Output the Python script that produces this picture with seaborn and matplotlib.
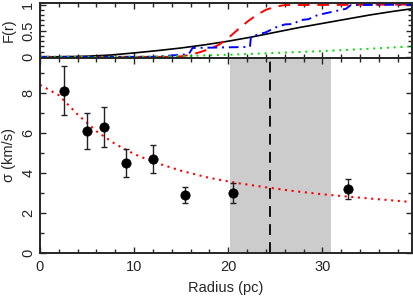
import matplotlib
matplotlib.use("Agg")
import matplotlib.pyplot as plt
from matplotlib.ticker import MultipleLocator
import seaborn as sns
import pandas as pd

# measured velocity dispersion profile
radius = [2.55, 4.98, 6.75, 9.12, 12.0, 15.4, 20.5, 32.7]
sigma = [8.12, 6.12, 6.32, 4.51, 4.69, 2.90, 2.98, 3.19]
sigma_lo = [1.20, 0.91, 1.01, 0.71, 0.69, 0.42, 0.50, 0.49]
sigma_hi = [1.25, 0.92, 1.00, 0.69, 0.72, 0.39, 0.51, 0.51]

# fitted model (red dotted)
fit_r = [0, 2, 4, 6, 8, 10, 12, 15, 18, 21, 24, 27, 30, 33, 36, 39.5]
fit_s = [8.43, 7.91, 6.94, 6.10, 5.46, 4.96, 4.57, 4.12, 3.76, 3.50, 3.29, 3.10, 2.94, 2.81, 2.69, 2.55]

# shaded range and marked radius
band = (20.15, 30.9)
r_mark = 24.4

# cumulative distributions F(r)
black_r = [0, 2.5, 5, 7.5, 10, 12.5, 15, 17.5, 20, 22.5, 25, 27.5, 30, 32.5, 35, 37.5, 39.5]
black_f = [0, 0.002, 0.012, 0.035, 0.075, 0.12, 0.17, 0.23, 0.30, 0.38, 0.47, 0.56, 0.64, 0.72, 0.80, 0.87, 0.92]
red_r = [0, 14, 15, 16, 17, 18, 19, 20, 21, 22, 23, 24, 25, 26, 39.5]
red_f = [0, 0, 0.01, 0.04, 0.09, 0.15, 0.23, 0.36, 0.52, 0.67, 0.80, 0.90, 0.96, 0.99, 1.0]
blue_r = [0, 12, 15.8, 16.2, 22.3, 22.4, 23, 24, 25, 26, 27, 27.5, 28.5, 29.5, 30.5, 31.5, 32.5, 33, 39.5]
blue_f = [0, 0, 0.05, 0.17, 0.19, 0.38, 0.42, 0.47, 0.56, 0.62, 0.63, 0.70, 0.72, 0.80, 0.84, 0.88, 0.92, 0.99, 1.0]
green_r = [0, 8, 12, 16, 20, 25, 30, 35, 39.5]
green_f = [0, 0, 0.005, 0.02, 0.04, 0.075, 0.11, 0.155, 0.20]

sns.set_style("ticks")
plt.rcParams["font.family"] = ["Liberation Sans", "DejaVu Sans"]
plt.rcParams["font.size"] = 10.5
for k in ["xtick", "ytick"]:
    plt.rcParams[k + ".direction"] = "in"
    plt.rcParams[k + ".major.size"] = 4.5
    plt.rcParams[k + ".minor.size"] = 2.6
    plt.rcParams[k + ".major.width"] = 1
    plt.rcParams[k + ".minor.width"] = 1
plt.rcParams["axes.linewidth"] = 1.4

fig = plt.figure(figsize=(4.14, 3.0), dpi=100)
ax_top = fig.add_axes([0.0966, 0.807, 0.8984, 0.183])
ax = fig.add_axes([0.0966, 0.157, 0.8984, 0.650])

# top panel
sns.lineplot(x=black_r, y=black_f, ax=ax_top, color="black", lw=1.2, estimator=None, sort=False)
sns.lineplot(x=red_r, y=red_f, ax=ax_top, color="red", lw=1.4, ls=(0, (6, 4)), estimator=None, sort=False)
sns.lineplot(x=blue_r, y=blue_f, ax=ax_top, color="blue", lw=1.4, ls=(0, (5, 2.5, 1, 2.5)), estimator=None, sort=False)
sns.lineplot(x=green_r, y=green_f, ax=ax_top, color="#00dd00", lw=1.4, ls=(0, (1, 2.5)), estimator=None, sort=False)
ax_top.set_xlim(0, 39.5)
ax_top.set_ylim(-0.02, 1.03)
ax_top.set_ylabel("F(r)", labelpad=4)
ax_top.yaxis.set_minor_locator(MultipleLocator(0.1))
ax_top.xaxis.set_major_locator(MultipleLocator(10))
ax_top.xaxis.set_minor_locator(MultipleLocator(2))
ax_top.tick_params(which="both", top=True, right=True, labelbottom=False)
ax_top.set_yticks([0, 0.5, 1])
ax_top.set_yticklabels(["0", "0.5", "1"], rotation=90, va="center")

# bottom panel
ax.axvspan(band[0], band[1], color="#cccccc", lw=0, zorder=0)
ax.axvline(r_mark, color="black", lw=1.3, ls=(0, (6, 4)))
sns.lineplot(x=fit_r, y=fit_s, ax=ax, color="red", lw=1.5, ls=(0, (1, 2.2)), estimator=None, sort=False)
ax.errorbar(radius, sigma, yerr=[sigma_lo, sigma_hi], fmt="none", ecolor="#222222",
            elinewidth=1, capsize=2.3, capthick=1, zorder=3)
df = pd.DataFrame({"r": radius, "s": sigma})
sns.scatterplot(data=df, x="r", y="s", ax=ax, color="black", s=45, edgecolor="black", zorder=4)
ax.set_xlim(0, 39.5)
ax.set_ylim(0, 9.78)
ax.set_xlabel("Radius (pc)", labelpad=5)
ax.set_ylabel("σ (km/s)", labelpad=4)
ax.xaxis.set_major_locator(MultipleLocator(10))
ax.xaxis.set_minor_locator(MultipleLocator(2))
ax.yaxis.set_minor_locator(MultipleLocator(1))
ax.tick_params(which="both", top=True, right=True)
ax.tick_params(axis="x", pad=5)
ax.set_yticks([0, 2, 4, 6, 8])
ax.set_yticklabels(["0", "2", "4", "6", "8"], rotation=90, va="center")

fig.savefig("out.png", dpi=100)
